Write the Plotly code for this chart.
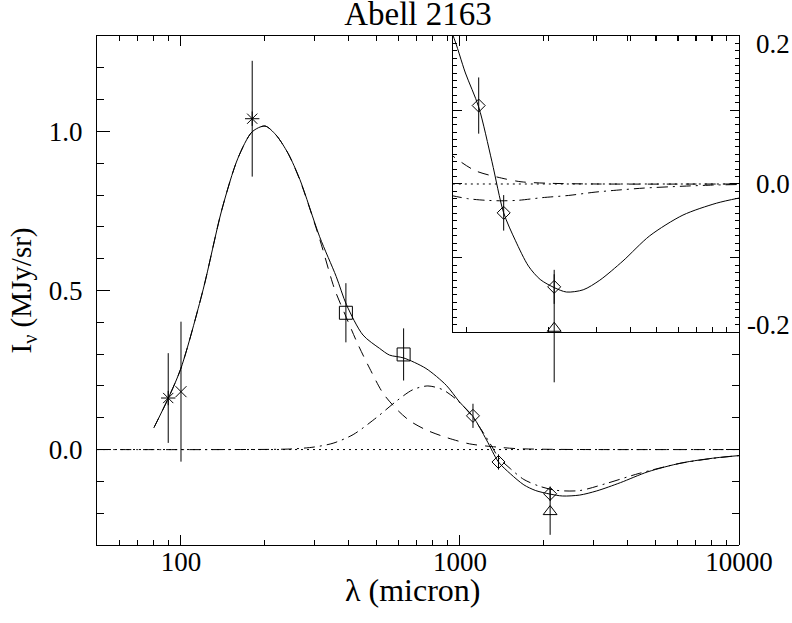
import math
import plotly.graph_objects as go

# ---------------- data ----------------
# measured points: wavelength (micron), intensity (MJy/sr), 1-sigma error
lam_ast = [90, 180]
I_ast = [0.162, 1.040]
e_ast = [0.141, 0.182]

lam_x = [100]
I_x = [0.182]
e_x = [0.220]

lam_sq = [390, 628]
I_sq = [0.430, 0.299]
e_sq = [0.093, 0.082]

lam_dia = [1113, 1374, 2104]
I_dia = [0.106, -0.039, -0.139]
e_dia = [0.038, 0.024, 0.023]

lam_tri = [2104]
I_tri = [-0.195]
e_tri = [0.073]

# model curves
lam_tot = [80, 90, 100, 120, 140, 160, 180, 200, 219, 242, 267, 314, 360, 392, 449,
           515, 559, 628, 755, 893, 995, 1113, 1245, 1374, 1515, 1694, 1869, 2104,
           2333, 2687, 3091, 3758, 4710, 6233, 8260, 10000]
I_tot = [0.069, 0.161, 0.256, 0.502, 0.753, 0.916, 0.999, 1.017, 0.989, 0.931, 0.848,
         0.669, 0.544, 0.455, 0.360, 0.318, 0.297, 0.288, 0.255, 0.202, 0.150, 0.104,
         0.030, -0.039, -0.076, -0.111, -0.129, -0.140, -0.146, -0.143, -0.130,
         -0.104, -0.070, -0.042, -0.026, -0.019]

lam_dust = [80, 90, 100, 120, 140, 160, 180, 200, 219, 242, 267, 314, 355, 391, 430,
            474, 529, 591, 659, 755, 893, 1081, 1349, 1590, 2000, 3000, 10000]
I_dust = [0.069, 0.161, 0.256, 0.502, 0.753, 0.916, 0.999, 1.017, 0.989, 0.931, 0.846,
          0.662, 0.505, 0.416, 0.332, 0.256, 0.178, 0.128, 0.091, 0.062, 0.038, 0.018,
          0.008, 0.003, 0.001, 0.0, 0.0]

lam_tsz = [50, 150, 250, 300, 351, 414, 501, 591, 677, 767, 868, 969, 1081, 1208, 1300,
           1374, 1515, 1694, 1924, 2207, 2679, 3334, 4385, 6098, 8000, 10000]
I_tsz = [0.0, 0.0, 0.002, 0.008, 0.020, 0.047, 0.100, 0.152, 0.188, 0.200, 0.188, 0.158,
         0.115, 0.055, 0.010, -0.025, -0.060, -0.094, -0.115, -0.128, -0.129, -0.107,
         -0.075, -0.044, -0.028, -0.019]

lam_ksz = [880, 1023, 1177, 1354, 1558, 1898, 2375, 2970, 3555, 4500, 6233, 8000, 10000]
I_ksz = [-0.0155, -0.020, -0.022, -0.0227, -0.022, -0.0185, -0.0155, -0.011, -0.0084,
         -0.0055, -0.003, -0.0015, -0.0007]

lam_zero = [50, 10000]
I_zero = [0.0, 0.0]

# tick labels / positions
x_major = [100, 1000, 10000]
x_major_text = ["100", "1000", "10000"]
x_minor = [60, 70, 80, 90, 200, 300, 400, 500, 600, 700, 800, 900,
           2000, 3000, 4000, 5000, 6000, 7000, 8000, 9000]
y_major = [0.0, 0.5, 1.0]
y_major_text = ["0.0", "0.5", "1.0"]
y_minor = [-0.2, -0.1, 0.1, 0.2, 0.3, 0.4, 0.6, 0.7, 0.8, 0.9, 1.1, 1.2]
ins_x_ticks = [900, 1000, 2000, 3000, 4000, 5000, 6000, 7000, 8000, 9000]
ins_y_major = [-0.2, -0.1, 0.0, 0.1, 0.2]
ins_y_minor = [round(-0.2 + 0.01 * i, 2) for i in range(41)]
ins_y_labels = ["0.2", "0.0", "-0.2"]
ins_y_label_vals = [0.2, 0.0, -0.2]

# ---------------- layout geometry ----------------
W, H = 792, 623
L, T = 97, 36
PW, PH = 642, 509
R, B = W - L - PW, H - T - PH
main_xr = [math.log10(50), 4.0]
main_yr = [-0.3, 1.3]
ins_left = 0.5545
ins_bottom = 0.4185
ins_xr = [math.log10(896), 4.0]
ins_yr = [-0.2, 0.2]
# same scale as the inset y axis, but spanning the whole panel height
# (lets the inset's triangle error bar run below the inset, as in the original)
ins_scale = (ins_yr[1] - ins_yr[0]) / (1 - ins_bottom)
ins_ext_r = [ins_yr[1] - ins_scale, ins_yr[1]]

FONT = "Liberation Serif"
BLK = "black"
DASH = "11px,8px"
DOT = "2px,4px"
DASHDOT = "11px,5px,2px,5px"

fig = go.Figure()


def line(x, y, dash, xa="x", ya="y"):
    fig.add_trace(go.Scatter(x=x, y=y, mode="lines", xaxis=xa, yaxis=ya,
                             line=dict(color=BLK, width=1, dash=dash,
                                       shape="spline", smoothing=0.8),
                             hoverinfo="skip", showlegend=False))


def pts(x, y, e, sym, size, xa="x", ya="y"):
    fig.add_trace(go.Scatter(x=x, y=y, mode="markers", xaxis=xa, yaxis=ya,
                             marker=dict(symbol=sym, size=size, color=BLK,
                                         line=dict(color=BLK, width=1)),
                             error_y=dict(type="data", array=e, visible=True,
                                          color=BLK, thickness=1, width=0),
                             showlegend=False))


# main panel
line(lam_zero, I_zero, DOT)
line(lam_tsz, I_tsz, DASHDOT)
line(lam_dust, I_dust, DASH)
line(lam_tot, I_tot, "solid")
pts(lam_ast, I_ast, e_ast, "asterisk-open", 12)
pts(lam_x, I_x, e_x, "x-thin-open", 11)
pts(lam_sq, I_sq, e_sq, "square-open", 13)
pts(lam_dia, I_dia, e_dia, "diamond-open", 10)
pts(lam_tri, I_tri, e_tri, "triangle-up-open", 12)

# inset panel
line(lam_zero, I_zero, DOT, "x2", "y2")
line(lam_ksz, I_ksz, DASHDOT, "x2", "y2")
line(lam_dust, I_dust, DASH, "x2", "y2")
line(lam_tot, I_tot, "solid", "x2", "y2")
pts(lam_dia, I_dia, e_dia, "diamond-open", 10, "x2", "y2")
pts(lam_tri, I_tri, e_tri, "triangle-up-open", 12, "x2", "y4")

# helper trace for the lower right-hand axis of the main panel
fig.add_trace(go.Scatter(x=[], y=[], xaxis="x", yaxis="y3", showlegend=False))

axis_common = dict(showline=True, linecolor=BLK, linewidth=1, showgrid=False,
                   zeroline=False, ticks="inside", tickcolor=BLK, tickwidth=1,
                   automargin=False,
                   tickfont=dict(family=FONT, size=27, color=BLK))

fig.update_layout(
    width=W, height=H,
    margin=dict(l=L, r=R, t=T, b=B, autoexpand=False),
    paper_bgcolor="white", plot_bgcolor="rgba(0,0,0,0)",
    showlegend=False, hovermode=False,
    font=dict(family=FONT, color=BLK),
    title=dict(text="Abell 2163", x=0.5, xref="paper", xanchor="center",
               y=1 - 13.5 / H, yref="container", yanchor="middle",
               font=dict(family=FONT, size=33, color=BLK)),
    xaxis=dict(axis_common, type="log", range=main_xr, domain=[0, 1], anchor="y",
               tickmode="array", tickvals=x_major, ticktext=x_major_text,
               ticklen=10, mirror="ticks", ticklabelstandoff=-7,
               minor=dict(tickmode="array", tickvals=x_minor, ticks="inside",
                          ticklen=5, tickcolor=BLK)),
    yaxis=dict(axis_common, range=main_yr, domain=[0, 1], anchor="x",
               tickmode="array", tickvals=y_major, ticktext=y_major_text,
               ticklen=13, ticklabelstandoff=8,
               title=dict(text="I<sub>ν</sub> (MJy/sr)", standoff=8,
                          font=dict(family=FONT, size=29, color=BLK)),
               minor=dict(tickmode="array", tickvals=y_minor, ticks="inside",
                          ticklen=7, tickcolor=BLK)),
    yaxis3=dict(axis_common, side="right", anchor="x", domain=[0, ins_bottom],
                range=[main_yr[0], main_yr[0] + (main_yr[1] - main_yr[0]) * ins_bottom],
                tickmode="array", tickvals=[0.0], ticklen=13, showticklabels=False,
                minor=dict(tickmode="array", tickvals=[-0.2, -0.1, 0.1, 0.2, 0.3],
                           ticks="inside", ticklen=7, tickcolor=BLK)),
    xaxis2=dict(axis_common, type="log", range=ins_xr, domain=[ins_left, 1],
                anchor="y2", tickmode="array", tickvals=ins_x_ticks, ticklen=5,
                mirror="ticks", showticklabels=False),
    yaxis2=dict(axis_common, range=ins_yr, domain=[ins_bottom, 1], anchor="x2",
                side="right", tickmode="array", tickvals=ins_y_major, ticklen=9,
                mirror="ticks", showticklabels=False,
                minor=dict(tickmode="array", tickvals=ins_y_minor, ticks="inside",
                           ticklen=4, tickcolor=BLK)),
    yaxis4=dict(visible=False, range=ins_ext_r, domain=[0, 1], anchor="x2",
                showgrid=False, zeroline=False, automargin=False),
)

ann = []
for txt, v in zip(ins_y_labels, ins_y_label_vals):
    shift = {0.2: -8, 0.0: 0, -0.2: 7}[v]
    ann.append(dict(text=txt, x=1, xref="paper", xanchor="right", xshift=53,
                    y=v, yref="y2", yanchor="middle", yshift=shift, showarrow=False,
                    font=dict(family=FONT, size=27, color=BLK)))
ann.append(dict(text="λ (micron)", x=0.5, xref="paper", xanchor="center", xshift=-6,
                y=0, yref="paper", yanchor="middle", yshift=-45, showarrow=False,
                font=dict(family=FONT, size=32, color=BLK)))
fig.update_layout(annotations=ann)

fig.write_html("out.html", config={"displayModeBar": False, "staticPlot": True},
               post_script="document.body.style.margin='0px';")
